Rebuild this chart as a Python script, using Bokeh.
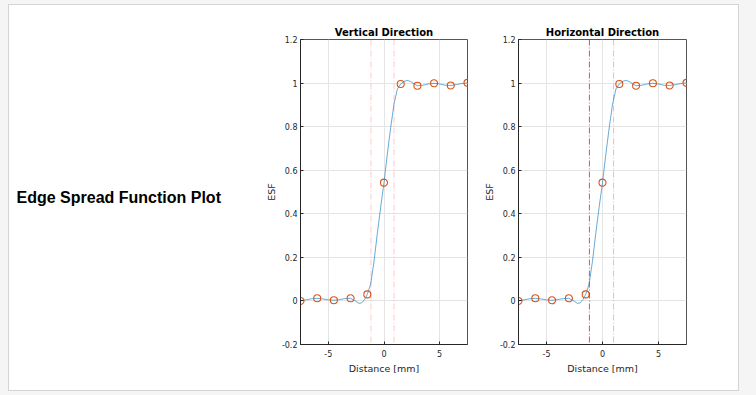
from bokeh.plotting import figure
from bokeh.models import Span, Label, Range1d, FixedTicker
from bokeh.layouts import row, column
from bokeh.embed import file_html
from bokeh.resources import INLINE

# ---- data ----
sample_x = [-7.5, -6.0, -4.5, -3.0, -1.5, 0.0, 1.5, 3.0, 4.5, 6.0, 7.5]
sample_esf = [0.0, 0.012, 0.003, 0.012, 0.030, 0.543, 0.996, 0.988, 0.999, 0.989, 1.001]

curve_x = [-7.5, -7.0, -6.5, -6.0, -5.5, -5.0, -4.5, -4.0, -3.5, -3.0, -2.5, -2.25,
           -2.0, -1.75, -1.5, -1.2, -0.9, -0.6, -0.3, 0.0, 0.3, 0.6, 0.9, 1.2, 1.5,
           1.8, 2.1, 2.4, 2.7, 3.0, 3.5, 4.0, 4.5, 5.0, 5.5, 6.0, 6.5, 7.0, 7.5]
curve_esf = [0.0, 0.005, 0.010, 0.012, 0.009, 0.005, 0.003, 0.006, 0.011, 0.012, -0.002,
             -0.011, -0.009, 0.006, 0.030, 0.077, 0.180, 0.310, 0.430, 0.543, 0.674,
             0.796, 0.904, 0.973, 0.996, 1.008, 1.012, 1.007, 0.996, 0.988, 0.990,
             0.996, 0.999, 0.996, 0.990, 0.989, 0.993, 0.998, 1.001]

vertical_edges = [-1.17, 0.90]
vertical_edge_alpha = [0.22, 0.22]
horizontal_edges = [-1.17, 0.99]
horizontal_edge_alpha = [0.75, 0.3]

x_ticks = [-5, 0, 5]
x_tick_labels = ["-5", "0", "5"]
y_ticks = [-0.2, 0, 0.2, 0.4, 0.6, 0.8, 1.0, 1.2]
y_tick_labels = ["-0.2", "0", "0.2", "0.4", "0.6", "0.8", "1", "1.2"]

page_title = "Edge Spread Function Plot"
titles = ["Vertical Direction", "Horizontal Direction"]
x_label = "Distance [mm]"
y_label = "ESF"

FONT = "DejaVu Sans"
AX = "#262626"
FRAME_H = 305
TOP = 34
BOTTOM = 46


def make_panel(title, edges, alphas, left, right, fw):
    p = figure(output_backend="svg", toolbar_location=None,
               frame_width=fw, frame_height=FRAME_H,
               min_border_left=left, min_border_right=right,
               min_border_top=TOP, min_border_bottom=BOTTOM,
               x_range=Range1d(-7.5, 7.5), y_range=Range1d(-0.2, 1.2),
               background_fill_color="white", border_fill_color="white")
    p.title.text = title
    p.title.align = "center"
    p.title.text_font = FONT
    p.title.text_font_size = "10px"
    p.title.text_font_style = "bold"
    p.title.text_color = "black"
    p.title.standoff = 3
    p.outline_line_color = "#555555"

    for ax in (p.xaxis[0], p.yaxis[0]):
        ax.axis_line_color = AX
        ax.major_tick_line_color = AX
        ax.major_tick_in = 3
        ax.major_tick_out = 0
        ax.minor_tick_line_color = None
        ax.major_label_text_font = FONT
        ax.major_label_text_font_size = "8px"
        ax.major_label_text_color = AX
        ax.axis_label_text_font = FONT
        ax.axis_label_text_font_size = "9.5px"
        ax.axis_label_text_font_style = "normal"
        ax.axis_label_text_color = AX
    p.xaxis.ticker = FixedTicker(ticks=x_ticks)
    p.yaxis.ticker = FixedTicker(ticks=y_ticks)
    p.xaxis.major_label_overrides = {t: s for t, s in zip(x_ticks, x_tick_labels)}
    p.yaxis.major_label_overrides = {t: s for t, s in zip(y_ticks, y_tick_labels)}
    p.xaxis.axis_label = x_label
    p.yaxis.axis_label = y_label
    p.xaxis.major_label_standoff = 5
    p.yaxis.major_label_standoff = 3
    p.xaxis.axis_label_standoff = 3
    p.yaxis.axis_label_standoff = 2

    p.xgrid.grid_line_color = "#e4e4e4"
    p.ygrid.grid_line_color = "#e4e4e4"

    for loc, a in zip(edges, alphas):
        p.add_layout(Span(location=loc, dimension="height", line_color="#FF0000",
                          line_alpha=a, line_width=1, line_dash="6 2 1 2"))

    p.line(curve_x, curve_esf, line_color="#0072BD", line_width=0.8, line_alpha=0.75)
    p.scatter(sample_x, sample_esf, marker="circle", size=7, fill_color=None,
              line_color="#D95319", line_width=1.1)
    return p


p0 = figure(output_backend="svg", toolbar_location=None,
            frame_width=251, frame_height=FRAME_H,
            min_border_left=0, min_border_right=0,
            min_border_top=TOP, min_border_bottom=BOTTOM,
            x_range=Range1d(0, 251), y_range=Range1d(0, FRAME_H),
            border_fill_color="white", background_fill_color="white")
p0.axis.visible = False
p0.grid.visible = False
p0.outline_line_color = None
p0.add_layout(Label(x=7, y=147, text=page_title,
                    text_font="Liberation Sans", text_font_style="bold",
                    text_font_size="16px", text_baseline="middle", text_color="black"))

p1 = make_panel(titles[0], vertical_edges, vertical_edge_alpha, 40, 12, 167)
p2 = make_panel(titles[1], horizontal_edges, horizontal_edge_alpha, 39, 52, 168)

inner = row(p0, p1, p2, spacing=0, margin=(4, 0, 0, 8),
            styles={"border": "1px solid #d4d4d4", "background-color": "white"})
layout = column(inner, styles={"background-color": "#f5f5f5"},
                width=756, height=395)

open("out.html", "w").write(file_html(layout, INLINE))
